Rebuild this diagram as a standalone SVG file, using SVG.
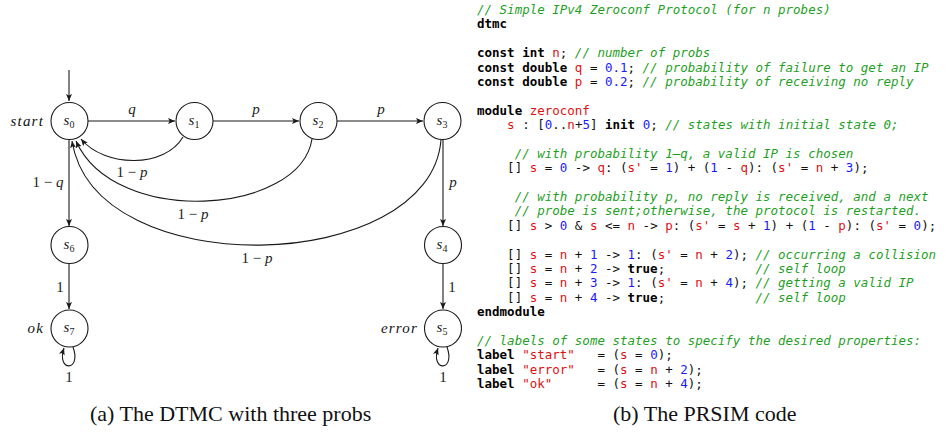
<svg xmlns="http://www.w3.org/2000/svg" width="948" height="432" viewBox="0 0 948 432">
  <style>
    .node circle { fill: #fff; stroke: #1a1a1a; stroke-width: 1.1; }
    .nl { font-family: "Liberation Serif", serif; font-style: italic; font-size: 15px; fill: #222; text-anchor: middle; }
    .sub { font-size: 10px; font-style: normal; }
    .edge { fill: none; stroke: #1a1a1a; stroke-width: 1.1; marker-end: url(#arr); }
    .el { font-family: "Liberation Serif", serif; font-size: 15px; fill: #222; text-anchor: middle; }
    .it { font-style: italic; }
    .tag { font-family: "Liberation Serif", serif; font-style: italic; font-size: 15px; fill: #111; text-anchor: end; letter-spacing: 1.2px; }
    .code { font-family: "DejaVu Sans Mono", monospace; font-size: 12.5px; fill: #111; }
    .k { font-weight: bold; fill: #000; }
    .c { font-style: italic; fill: #1f9f1f; }
    .r { fill: #e01010; }
    .b { fill: #1a1aff; }
    .cap { font-family: "Liberation Serif", serif; font-size: 22px; fill: #111; }
  </style>
  <defs>
    <marker id="arr" markerUnits="userSpaceOnUse" markerWidth="9" markerHeight="8" refX="7" refY="3" orient="auto">
      <path d="M0,0 L7,3 L0,6 L1.6,3 z" fill="#1a1a1a"/>
    </marker>
  </defs>

  <!-- state transitions -->
  <g id="connectors">
    <path class="edge" d="M69,70 L69,101"/>
    <path class="edge" d="M88,121 L175,121"/>
    <path class="edge" d="M213,121 L299,121"/>
    <path class="edge" d="M337,121 L423,121"/>
    <path class="edge" d="M183,137 C165,168 105,168 81,139"/>
    <path class="edge" d="M312,139 C300,215 115,228 76,141"/>
    <path class="edge" d="M441,140 C430,275 95,285 72,141"/>
    <path class="edge" d="M69,140 L69,226"/>
    <path class="edge" d="M443,140 L443,226"/>
    <path class="edge" d="M69,264 L69,309"/>
    <path class="edge" d="M443,264 L443,309"/>
    <path class="edge" d="M73,347 C82,372 56,372 64,348"/>
    <path class="edge" d="M447,347 C456,372 430,372 438,348"/>

    <text class="el it" x="132" y="114">q</text>
    <text class="el it" x="256" y="114">p</text>
    <text class="el it" x="381" y="114">p</text>
    <text class="el" x="132" y="177">1 − <tspan class="it">p</tspan></text>
    <text class="el" x="193" y="219">1 − <tspan class="it">p</tspan></text>
    <text class="el" x="257" y="263">1 − <tspan class="it">p</tspan></text>
    <text class="el" x="48" y="187">1 − <tspan class="it">q</tspan></text>
    <text class="el it" x="453" y="187">p</text>
    <text class="el" x="60" y="292">1</text>
    <text class="el" x="452" y="292">1</text>
    <text class="el" x="69" y="382">1</text>
    <text class="el" x="443" y="382">1</text>
  </g>

  <!-- states -->
  <g id="s0" class="node"><circle cx="69.5" cy="121" r="18.5"/><text class="nl" x="69" y="125">s<tspan class="sub" dy="3">0</tspan></text></g>
  <g id="s1" class="node"><circle cx="194.5" cy="121" r="18.5"/><text class="nl" x="194" y="125">s<tspan class="sub" dy="3">1</tspan></text></g>
  <g id="s2" class="node"><circle cx="318.5" cy="121" r="18.5"/><text class="nl" x="318" y="125">s<tspan class="sub" dy="3">2</tspan></text></g>
  <g id="s3" class="node"><circle cx="442.5" cy="121" r="18.5"/><text class="nl" x="442" y="125">s<tspan class="sub" dy="3">3</tspan></text></g>
  <g id="s6" class="node"><circle cx="69.5" cy="245" r="18.5"/><text class="nl" x="69" y="249">s<tspan class="sub" dy="3">6</tspan></text></g>
  <g id="s4" class="node"><circle cx="443" cy="245" r="18.5"/><text class="nl" x="442" y="249">s<tspan class="sub" dy="3">4</tspan></text></g>
  <g id="s7" class="node"><circle cx="69.5" cy="328.5" r="18.5"/><text class="nl" x="69" y="332">s<tspan class="sub" dy="3">7</tspan></text></g>
  <g id="s5" class="node"><circle cx="443" cy="328.5" r="18.5"/><text class="nl" x="442" y="332">s<tspan class="sub" dy="3">5</tspan></text></g>

  <!-- state labels -->
  <g id="tags">
    <text class="tag" x="44" y="126">start</text>
    <text class="tag" x="44" y="333">ok</text>
    <text class="tag" x="418" y="333">error</text>
  </g>

  <!-- PRISM model listing; indents and column padding use no-break spaces -->
  <g id="listing" class="code">
    <text x="477" y="14"><tspan class="c">// Simple IPv4 Zeroconf Protocol (for n probes)</tspan></text>
    <text x="477" y="28.4"><tspan class="k">dtmc</tspan></text>
    <text x="477" y="57.1"><tspan class="k">const int</tspan> <tspan class="r">n</tspan>; <tspan class="c">// number of probs</tspan></text>
    <text x="477" y="71.5"><tspan class="k">const double</tspan> <tspan class="r">q</tspan> = <tspan class="b">0.1</tspan>; <tspan class="c">// probability of failure to get an IP</tspan></text>
    <text x="477" y="85.9"><tspan class="k">const double</tspan> <tspan class="r">p</tspan> = <tspan class="b">0.2</tspan>; <tspan class="c">// probability of receiving no reply</tspan></text>
    <text x="477" y="114.7"><tspan class="k">module</tspan> <tspan class="r">zeroconf</tspan></text>
    <text x="477" y="129">&#160;&#160;&#160;&#160;<tspan class="r">s</tspan> : [<tspan class="b">0</tspan>..<tspan class="r">n</tspan>+<tspan class="b">5</tspan>] <tspan class="k">init</tspan> <tspan class="b">0</tspan>; <tspan class="c">// states with initial state 0;</tspan></text>
    <text x="477" y="157.8">&#160;&#160;&#160;&#160;&#160;<tspan class="c">// with probability 1–q, a valid IP is chosen</tspan></text>
    <text x="477" y="172.2">&#160;&#160;&#160;&#160;[] <tspan class="r">s</tspan> = <tspan class="b">0</tspan> -&gt; <tspan class="r">q</tspan>: (<tspan class="r">s'</tspan> = <tspan class="b">1</tspan>) + (<tspan class="b">1</tspan> - <tspan class="r">q</tspan>): (<tspan class="r">s'</tspan> = <tspan class="r">n</tspan> + <tspan class="b">3</tspan>);</text>
    <text x="477" y="200.9">&#160;&#160;&#160;&#160;&#160;<tspan class="c">// with probability p, no reply is received, and a next</tspan></text>
    <text x="477" y="215.3">&#160;&#160;&#160;&#160;&#160;<tspan class="c">// probe is sent;otherwise, the protocol is restarted.</tspan></text>
    <text x="477" y="229.7">&#160;&#160;&#160;&#160;[] <tspan class="r">s</tspan> &gt; <tspan class="b">0</tspan> &amp; <tspan class="r">s</tspan> &lt;= <tspan class="r">n</tspan> -&gt; <tspan class="r">p</tspan>: (<tspan class="r">s'</tspan> = <tspan class="r">s</tspan> + <tspan class="b">1</tspan>) + (<tspan class="b">1</tspan> - <tspan class="r">p</tspan>): (<tspan class="r">s'</tspan> = <tspan class="b">0</tspan>);</text>
    <text x="477" y="258.5">&#160;&#160;&#160;&#160;[] <tspan class="r">s</tspan> = <tspan class="r">n</tspan> + <tspan class="b">1</tspan> -&gt; <tspan class="b">1</tspan>: (<tspan class="r">s'</tspan> = <tspan class="r">n</tspan> + <tspan class="b">2</tspan>); <tspan class="c">// occurring a collision</tspan></text>
    <text x="477" y="272.8">&#160;&#160;&#160;&#160;[] <tspan class="r">s</tspan> = <tspan class="r">n</tspan> + <tspan class="b">2</tspan> -&gt; <tspan class="k">true</tspan>;&#160;&#160;&#160;&#160;&#160;&#160;&#160;&#160;&#160;&#160;&#160;&#160;<tspan class="c">// self loop</tspan></text>
    <text x="477" y="287.2">&#160;&#160;&#160;&#160;[] <tspan class="r">s</tspan> = <tspan class="r">n</tspan> + <tspan class="b">3</tspan> -&gt; <tspan class="b">1</tspan>: (<tspan class="r">s'</tspan> = <tspan class="r">n</tspan> + <tspan class="b">4</tspan>); <tspan class="c">// getting a valid IP</tspan></text>
    <text x="477" y="301.6">&#160;&#160;&#160;&#160;[] <tspan class="r">s</tspan> = <tspan class="r">n</tspan> + <tspan class="b">4</tspan> -&gt; <tspan class="k">true</tspan>;&#160;&#160;&#160;&#160;&#160;&#160;&#160;&#160;&#160;&#160;&#160;&#160;<tspan class="c">// self loop</tspan></text>
    <text x="477" y="316"><tspan class="k">endmodule</tspan></text>
    <text x="477" y="344.7"><tspan class="c">// labels of some states to specify the desired properties:</tspan></text>
    <text x="477" y="359.1"><tspan class="k">label</tspan> <tspan class="r">"start"</tspan>&#160;&#160;&#160;= (<tspan class="r">s</tspan> = <tspan class="b">0</tspan>);</text>
    <text x="477" y="373.5"><tspan class="k">label</tspan> <tspan class="r">"error"</tspan>&#160;&#160;&#160;= (<tspan class="r">s</tspan> = <tspan class="r">n</tspan> + <tspan class="b">2</tspan>);</text>
    <text x="477" y="387.9"><tspan class="k">label</tspan> <tspan class="r">"ok"</tspan>&#160;&#160;&#160;&#160;&#160;&#160;= (<tspan class="r">s</tspan> = <tspan class="r">n</tspan> + <tspan class="b">4</tspan>);</text>
  </g>

  <!-- captions -->
  <text class="cap" x="90" y="421">(a) The DTMC with three probs</text>
  <text class="cap" x="613" y="421">(b) The PRSIM code</text>
</svg>
